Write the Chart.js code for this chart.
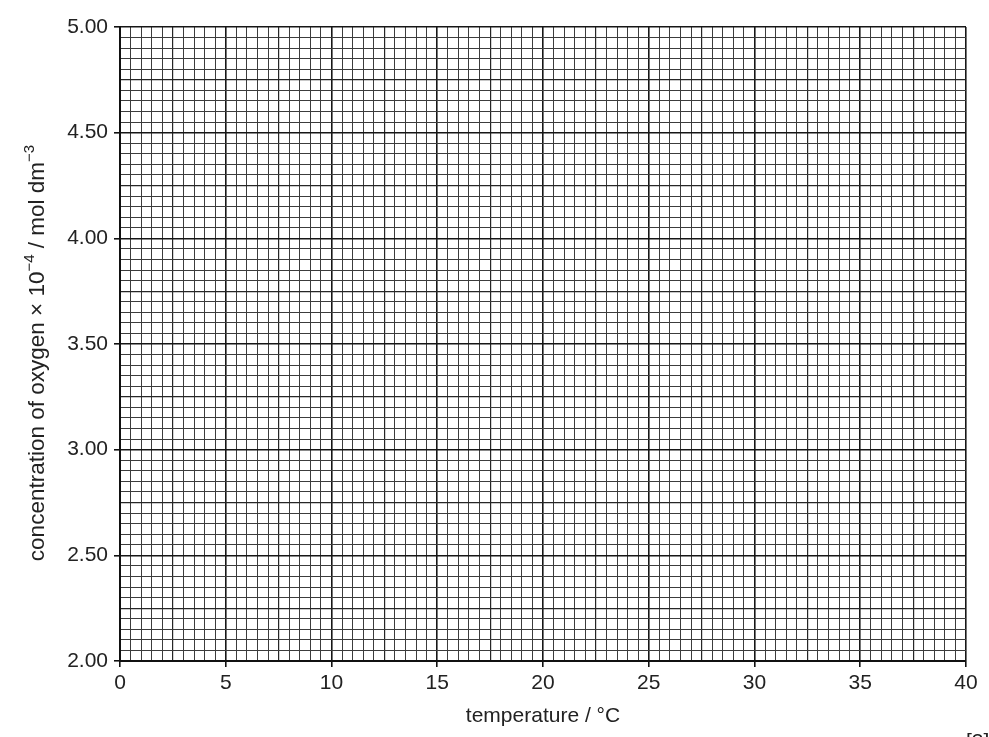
<!DOCTYPE html>
<html>
<head>
<meta charset="utf-8">
<title>concentration of oxygen vs temperature</title>
<script src="https://cdn.jsdelivr.net/npm/chart.js@4.4.1/dist/chart.umd.min.js"></script>
<style>
  html, body { margin: 0; padding: 0; background: #fff; }
  #wrap { width: 989px; height: 737px; position: relative; }
</style>
</head>
<body>
<div id="wrap"><canvas id="myChart" width="989" height="737"></canvas></div>
<script>
// axis ranges and labelled ticks (blank graph paper, no plotted series)
var xRange = [0, 40];
var xMajorTicks = [0, 5, 10, 15, 20, 25, 30, 35, 40];
var yRange = [2.00, 5.00];
var yMajorTicks = [2.00, 2.50, 3.00, 3.50, 4.00, 4.50, 5.00];
var points = [];

var xTitle = "temperature / °C";
var yTitleParts = [
  ["concentration of oxygen × 10", false],
  ["−4", true],
  [" / mol dm", false],
  ["−3", true]
];
var marksText = "[3]";

FONT = "'Liberation Sans', Arial, Helvetica, sans-serif";
fontSize = 21;
yTitleSize = 22.5;
supSize = 15;

function xKind(v){ var n = Math.round(v*2); if (n%10===0) return 2; if (n%5===0) return 1; return 0; }
function yKind(v){ var n = Math.round(v*20); if (n%10===0) return 2; if (n%5===0) return 1; return 0; }
function isXLabel(v){ return xMajorTicks.some(function(t){ return Math.abs(t-v) < 1e-6; }); }
function isYLabel(v){ return yMajorTicks.some(function(t){ return Math.abs(t-v) < 1e-6; }); }

var lineColor = ["#3c3c3c", "#262626", "#161616"];
var lineWidth = [1, 1.2, 1.6];

// y title with real superscripts, plus the "[3]" marks text
var extraText = {
  id: "extraText",
  afterDraw: function(chart){
    var c = chart.ctx;
    c.save();
    c.fillStyle = "#222";
    c.textBaseline = "alphabetic";
    c.textAlign = "left";
    var total = 0;
    yTitleParts.forEach(function(p){
      c.font = (p[1] ? supSize : yTitleSize) + "px " + FONT;
      total += c.measureText(p[0]).width;
    });
    c.translate(44, 353);
    c.rotate(-Math.PI/2);
    var x = -total/2;
    yTitleParts.forEach(function(p){
      c.font = (p[1] ? supSize : yTitleSize) + "px " + FONT;
      c.fillText(p[0], x, p[1] ? -10 : 0);
      x += c.measureText(p[0]).width;
    });
    c.restore();

    c.save();
    c.fillStyle = "#222";
    c.font = fontSize + "px " + FONT;
    c.textBaseline = "top";
    c.textAlign = "left";
    c.fillText(marksText, 966, 732);
    c.restore();
  }
};

new Chart("myChart", {
  type: "scatter",
  data: { datasets: [{ data: points, showLine: false }] },
  options: {
    responsive: false,
    animation: false,
    events: [],
    layout: { padding: { left: 0, top: 27, right: 23, bottom: 0 } },
    plugins: { legend: { display: false }, tooltip: { enabled: false } },
    scales: {
      x: {
        type: "linear",
        min: xRange[0], max: xRange[1],
        afterFit: function(s){ s.height = 76; },
        border: { color: "#111", width: 2 },
        grid: {
          color: function(ctx){ return lineColor[xKind(ctx.tick.value)]; },
          lineWidth: function(ctx){ return lineWidth[xKind(ctx.tick.value)]; },
          tickColor: function(ctx){ return isXLabel(ctx.tick.value) ? "#111" : "rgba(0,0,0,0)"; },
          tickLength: 6,
          tickWidth: 1.6
        },
        ticks: {
          stepSize: 0.5,
          maxTicksLimit: 200,
          autoSkip: false,
          maxRotation: 0,
          padding: 4,
          color: "#222",
          font: { family: FONT, size: fontSize },
          callback: function(v){ return isXLabel(v) ? String(Math.round(v)) : ""; }
        },
        title: {
          display: true,
          text: xTitle,
          color: "#222",
          font: { family: FONT, size: fontSize },
          padding: { top: 0, bottom: 8 }
        }
      },
      y: {
        type: "linear",
        min: yRange[0], max: yRange[1],
        afterFit: function(s){ s.width = 120; },
        border: { color: "#111", width: 2 },
        grid: {
          color: function(ctx){ return lineColor[yKind(ctx.tick.value)]; },
          lineWidth: function(ctx){ return lineWidth[yKind(ctx.tick.value)]; },
          tickColor: function(ctx){ return isYLabel(ctx.tick.value) ? "#111" : "rgba(0,0,0,0)"; },
          tickLength: 6,
          tickWidth: 1.6
        },
        ticks: {
          stepSize: 0.05,
          maxTicksLimit: 200,
          autoSkip: false,
          padding: 6,
          color: "#222",
          font: { family: FONT, size: fontSize },
          callback: function(v){ return isYLabel(v) ? v.toFixed(2) : ""; }
        }
      }
    }
  },
  plugins: [extraText]
});
</script>
</body>
</html>
